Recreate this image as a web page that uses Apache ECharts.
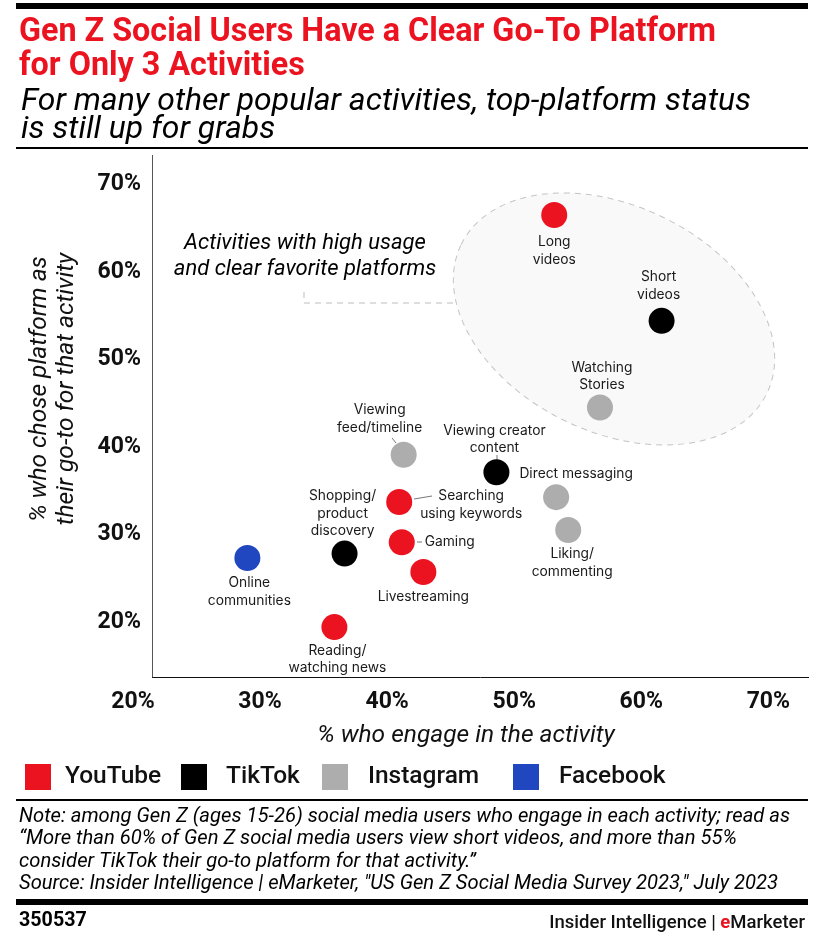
<!DOCTYPE html>
<html>
<head>
<meta charset="utf-8">
<style>html,body{margin:0;padding:0;background:#fff}#chart{width:817px;height:939px}</style>
<script src="https://cdn.jsdelivr.net/npm/echarts@6/dist/echarts.min.js"></script>
</head>
<body>
<div id="chart"></div>
<script>
// chart values
const xTicks = [20, 30, 40, 50, 60, 70];
const yTicks = [20, 30, 40, 50, 60, 70];

const youtubeNames = ['Long\nvideos', 'Searching\nusing keywords', 'Gaming', 'Livestreaming', 'Reading/\nwatching news'];
const youtubeX = [53.15, 40.95, 41.15, 42.85, 35.85];
const youtubeY = [66.2, 33.4, 28.8, 25.4, 19.1];

const tiktokNames = ['Short\nvideos', 'Viewing creator\ncontent', 'Shopping/\nproduct\ndiscovery'];
const tiktokX = [61.6, 48.6, 36.65];
const tiktokY = [54.1, 36.8, 27.5];

const instagramNames = ['Watching\nStories', 'Viewing\nfeed/timeline', 'Direct messaging', 'Liking/\ncommenting'];
const instagramX = [56.75, 41.3, 53.3, 54.25];
const instagramY = [44.2, 38.8, 33.95, 30.2];

const facebookNames = ['Online\ncommunities'];
const facebookX = [29];
const facebookY = [27];

// label offsets from the marker, px
const labelOffsets = {
    'Long\nvideos': [0, 36],
    'Short\nvideos': [-3, -35],
    'Watching\nStories': [2, -31],
    'Viewing\nfeed/timeline': [-24, -36],
    'Viewing creator\ncontent': [-2, -33],
    'Direct messaging': [20, -23],
    'Liking/\ncommenting': [4, 33],
    'Searching\nusing keywords': [72, 3],
    'Gaming': [48, 0],
    'Shopping/\nproduct\ndiscovery': [-2, -40],
    'Livestreaming': [0, 25],
    'Reading/\nwatching news': [3, 32],
    'Online\ncommunities': [2, 34]
};

const RED = '#ec1320';
const LABEL_FONT = 'Inter';
const HEAD_FONT = 'Roboto';

function points(names, xs, ys) {
    return names.map(function (name, i) {
        return {
            name: name,
            value: [xs[i], ys[i]],
            label: { offset: labelOffsets[name] }
        };
    });
}

function scatter(name, color, data) {
    return {
        name: name,
        type: 'scatter',
        symbolSize: 26,
        z: 5,
        clip: false,
        itemStyle: { color: color, opacity: 1 },
        label: {
            show: true,
            position: 'inside',
            align: 'center',
            verticalAlign: 'middle',
            formatter: function (p) { return p.name; },
            color: '#1a1a1a',
            fontFamily: LABEL_FONT,
            fontSize: 13.8,
            lineHeight: 17.3
        },
        data: data
    };
}

function rule(x1, x2, y, w) {
    return {
        type: 'line', silent: true,
        shape: { x1: x1, y1: y, x2: x2, y2: y },
        style: { stroke: '#000', lineWidth: w }
    };
}

function head(x, y, text, style) {
    return {
        type: 'text', x: x, y: y, silent: true,
        style: Object.assign({ text: text, fill: '#000', fontFamily: HEAD_FONT, verticalAlign: 'middle' }, style)
    };
}

function leader(points, dash) {
    return {
        type: 'polyline', silent: true, z: 1,
        shape: { points: points },
        style: { stroke: dash ? '#bdbdbd' : '#777', lineWidth: 1, fill: null, lineDash: dash ? [6, 5] : null }
    };
}

function legendItem(name, left, gap) {
    return {
        left: left, top: 764, padding: 0,
        icon: 'rect', itemWidth: 26, itemHeight: 26,
        selectedMode: false,
        data: [name],
        textStyle: { color: '#111', fontFamily: HEAD_FONT, fontWeight: 500, fontSize: 24.5, padding: [2, 0, 0, gap] }
    };
}

const series = [
    scatter('YouTube', RED, points(youtubeNames, youtubeX, youtubeY)),
    scatter('TikTok', '#000000', points(tiktokNames, tiktokX, tiktokY)),
    scatter('Instagram', '#adadad', points(instagramNames, instagramX, instagramY)),
    scatter('Facebook', '#2046c0', points(facebookNames, facebookX, facebookY))
];

// the axis lines stop short of the 20% ticks, so they are drawn in data coordinates
series[0].markLine = {
    silent: true,
    symbol: 'none',
    label: { show: false },
    data: [
        [{ coord: [21.5, 13.4], lineStyle: { color: '#111', width: 1, type: 'solid' } }, { coord: [73.2, 13.4] }],
        [{ coord: [21.5, 13.4], lineStyle: { color: '#555', width: 1, type: 'solid' } }, { coord: [21.5, 73.05] }]
    ]
};

const option = {
    animation: false,
    backgroundColor: '#fff',
    textStyle: { fontFamily: LABEL_FONT },
    grid: { left: 133, right: 8, top: 155, bottom: 262, outerBoundsMode: 'none' },
    xAxis: {
        type: 'value', min: 20, max: 73.2,
        axisLine: { show: false }, axisTick: { show: false }, splitLine: { show: false },
        axisLabel: {
            customValues: xTicks, margin: 14,
            formatter: '{value}%',
            color: '#111', fontFamily: HEAD_FONT, fontWeight: 'bold', fontSize: 23
        },
        name: '% who engage in the activity',
        nameLocation: 'middle', nameGap: 46,
        nameTextStyle: { color: '#111', fontFamily: HEAD_FONT, fontStyle: 'italic', fontSize: 24.5, padding: [0, 10, 0, 0] }
    },
    yAxis: {
        type: 'value', min: 13.4, max: 73.05,
        axisLine: { show: false }, axisTick: { show: false }, splitLine: { show: false },
        axisLabel: {
            customValues: yTicks, margin: -8,
            formatter: '{value}%',
            color: '#111', fontFamily: HEAD_FONT, fontWeight: 'bold', fontSize: 23,
            // sits a little below the tick value, as in the source
            verticalAlign: 'top', lineHeight: 6
        },
        name: '% who chose platform as\ntheir go-to for that activity',
        nameLocation: 'middle', nameGap: 53, nameRotate: 90,
        nameTextStyle: {
            color: '#111', fontFamily: HEAD_FONT, fontStyle: 'italic', fontSize: 24.5, lineHeight: 27,
            padding: [0, 0, 0, 54]
        }
    },
    legend: [
        legendItem('YouTube', 25, 9),
        legendItem('TikTok', 181, 14),
        legendItem('Instagram', 322, 15),
        legendItem('Facebook', 513, 15)
    ],
    graphic: [
        rule(16, 808, 6, 6),
        head(19, 33, 'Gen Z Social Users Have a Clear Go-To Platform', { fill: RED, fontWeight: 'bold', fontSize: 32.3 }),
        head(19, 67, 'for Only 3 Activities', { fill: RED, fontWeight: 'bold', fontSize: 32.3 }),
        head(21, 102, 'For many other popular activities, top-platform status', { fontStyle: 'italic', fontSize: 31.9 }),
        head(21, 130, 'is still up for grabs', { fontStyle: 'italic', fontSize: 31.9 }),
        rule(16, 808, 148, 2),
        {
            type: 'ellipse', silent: true, z: 0,
            x: 614, y: 319, rotation: -26 * Math.PI / 180,
            shape: { cx: 0, cy: 0, rx: 170, ry: 113 },
            style: { fill: '#f9f9f9', stroke: '#c4c4c4', lineWidth: 1, lineDash: [6, 5] }
        },
        leader([[304, 292], [304, 303], [456, 303]], true),
        leader([[392, 438], [396, 443]]),
        leader([[497, 455], [497, 460]]),
        leader([[414, 499], [432, 496]]),
        leader([[417, 542], [422, 542]]),
        head(305, 243, 'Activities with high usage', { textAlign: 'center', fontStyle: 'italic', fontSize: 22 }),
        head(305, 269, 'and clear favorite platforms', { textAlign: 'center', fontStyle: 'italic', fontSize: 22 }),
        rule(16, 808, 800, 2),
        head(19, 817, 'Note: among Gen Z (ages 15-26) social media users who engage in each activity; read as', { fontStyle: 'italic', fontSize: 20.2 }),
        head(19, 839, '\u201cMore than 60% of Gen Z social media users view short videos, and more than 55%', { fontStyle: 'italic', fontSize: 20.2 }),
        head(19, 862, 'consider TikTok their go-to platform for that activity.\u201d', { fontStyle: 'italic', fontSize: 20.2 }),
        head(19, 884, 'Source: Insider Intelligence | eMarketer, "US Gen Z Social Media Survey 2023," July 2023', { fontStyle: 'italic', fontSize: 20.2 }),
        rule(16, 808, 902, 6),
        head(19, 921, '350537', { fontWeight: 'bold', fontSize: 19.7 }),
        {
            type: 'text', x: 805, y: 923, silent: true,
            style: {
                text: '{a|Insider Intelligence | }{b|e}{a|Marketer}',
                textAlign: 'right', verticalAlign: 'middle',
                rich: {
                    a: { fontFamily: HEAD_FONT, fontWeight: 500, fontSize: 18.5, fill: '#111' },
                    b: { fontFamily: HEAD_FONT, fontWeight: 'bold', fontSize: 18.5, fill: RED }
                }
            }
        }
    ],
    series: series
};

const myChart = echarts.init(document.getElementById('chart'), null, { renderer: 'canvas' });
myChart.setOption(option);
</script>
</body>
</html>
